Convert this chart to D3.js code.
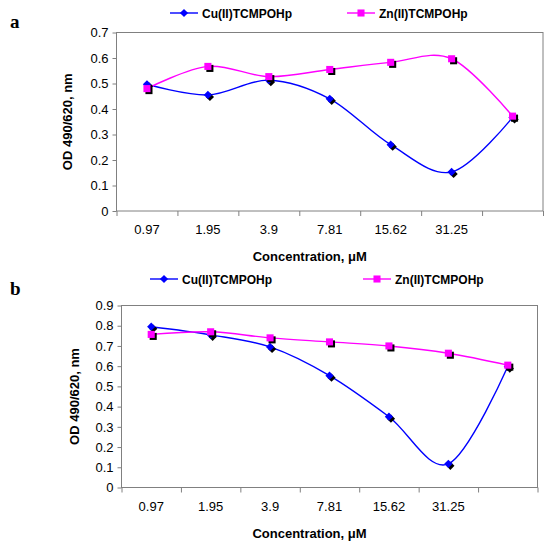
<!DOCTYPE html>
<html>
<head>
<meta charset="utf-8">
<script src="https://cdn.jsdelivr.net/npm/d3@7"></script>
<style>
  html, body { margin: 0; padding: 0; background: #fff; }
  svg text { font-family: "Liberation Sans", Arial, sans-serif; fill: #000; }
</style>
</head>
<body>
<svg id="chart" width="550" height="548"></svg>
<script>
// concentrations (uM); the last category carries no label in the figure
const concLabels = ['0.97', '1.95', '3.9', '7.81', '15.62', '31.25', ''];
const seriesNames = ['Cu(II)TCMPOHp', 'Zn(II)TCMPOHp'];

// panel a
const cuA = [0.497, 0.455, 0.513, 0.44, 0.26, 0.153, 0.367];
const znA = [0.48, 0.567, 0.527, 0.555, 0.583, 0.597, 0.372];
const yTicksA = [0, 0.1, 0.2, 0.3, 0.4, 0.5, 0.6, 0.7];

// panel b
const cuB = [0.795, 0.755, 0.695, 0.553, 0.35, 0.117, 0.598];
const znB = [0.757, 0.77, 0.74, 0.72, 0.70, 0.664, 0.605];
const yTicksB = [0, 0.1, 0.2, 0.3, 0.4, 0.5, 0.6, 0.7, 0.8, 0.9];

const svg = d3.select('#chart');
const colors = ['#0000ff', '#ff00ff'];
const shapes = [
	{ type: d3.symbolSquare, size: 34, rotate: 45 },
	{ type: d3.symbolSquare, size: 50, rotate: 0 }
];

function marker(g, x, y, i, shadow){
	const s = shapes[i];
	const path = d3.symbol().type(s.type).size(s.size)();
	if(shadow){
		g.append('path')
			.attr('d', path)
			.attr('transform', 'translate('+(x+2)+','+(y+2)+') rotate('+s.rotate+')')
			.attr('fill', '#000');
	}
	g.append('path')
		.attr('d', path)
		.attr('transform', 'translate('+x+','+y+') rotate('+s.rotate+')')
		.attr('fill', colors[i]);
}

function drawPanel(p){
	const g = svg.append('g');

	const x = d3.scaleBand()
		.domain(concLabels.map((d, i) => i))
		.range([p.left, p.right])
		.padding(0);
	const xEdge = d3.scaleLinear()
		.domain([0, concLabels.length])
		.range([p.left, p.right]);
	const y = d3.scaleLinear()
		.domain([0, p.yMax])
		.range([p.bottom, p.top]);

	// plot frame
	g.append('rect')
		.attr('x', p.left)
		.attr('y', p.top)
		.attr('width', p.right - p.left)
		.attr('height', p.bottom - p.top)
		.attr('fill', 'none')
		.attr('stroke', '#808080')
		.attr('stroke-width', 1);

	// y axis
	const ya = g.append('g')
		.attr('transform', 'translate('+p.left+',0)')
		.call(d3.axisLeft(y).tickValues(p.yTicks).tickSize(4).tickPadding(4)
			.tickFormat(d => d === 0 ? '0' : d3.format('.1f')(d)));
	ya.select('.domain').remove();
	ya.selectAll('.tick line').attr('stroke', '#808080');
	ya.selectAll('.tick text').attr('font-size', 13);

	// x axis: tick marks between categories, labels at centres
	const xt = g.append('g')
		.attr('transform', 'translate(0,'+p.bottom+')')
		.call(d3.axisBottom(xEdge).ticks(concLabels.length).tickSize(5).tickFormat(''));
	xt.select('.domain').remove();
	xt.selectAll('.tick line').attr('stroke', '#808080');

	const xl = g.append('g')
		.attr('transform', 'translate(0,'+p.bottom+')')
		.call(d3.axisBottom(x).tickSize(0).tickPadding(14).tickFormat(i => concLabels[i]));
	xl.select('.domain').remove();
	xl.selectAll('.tick text').attr('font-size', 13);

	// axis titles
	g.append('text')
		.attr('x', (p.left + p.right) / 2 - 20)
		.attr('y', p.bottom + 50)
		.attr('text-anchor', 'middle')
		.attr('font-size', 13)
		.attr('font-weight', 'bold')
		.text('Concentration, \u03bcM');

	g.append('text')
		.attr('transform', 'translate('+p.yTitleX+','+((p.top + p.bottom) / 2)+') rotate(-90)')
		.attr('text-anchor', 'middle')
		.attr('font-size', 13)
		.attr('font-weight', 'bold')
		.text('OD 490/620, nm');

	// panel letter
	g.append('text')
		.attr('x', 10)
		.attr('y', p.letterY)
		.style('font-family', '"Liberation Serif", "Times New Roman", serif')
		.attr('font-size', 19)
		.attr('font-weight', 'bold')
		.text(p.letter);

	// series
	const line = d3.line()
		.x((d, i) => x(i) + x.bandwidth() / 2)
		.y(d => y(d))
		.curve(d3.curveCardinal.tension(0));

	p.series.forEach((vals, si) => {
		g.append('path')
			.datum(vals)
			.attr('d', line)
			.attr('fill', 'none')
			.attr('stroke', colors[si])
			.attr('stroke-width', 1.4);
	});
	p.series.forEach((vals, si) => {
		vals.forEach((v, i) => marker(g, x(i) + x.bandwidth() / 2, y(v), si, true));
	});

	// legend
	seriesNames.forEach((name, si) => {
		const lx = p.legendX[si];
		g.append('line')
			.attr('x1', lx - 14).attr('x2', lx + 14)
			.attr('y1', p.legendY).attr('y2', p.legendY)
			.attr('stroke', colors[si])
			.attr('stroke-width', 1.4);
		marker(g, lx, p.legendY, si, false);
		g.append('text')
			.attr('x', lx + 18)
			.attr('y', p.legendY + 4.5)
			.attr('font-size', 12)
			.attr('font-weight', 'bold')
			.text(name);
	});
}

drawPanel({
	letter: 'a', letterY: 28,
	left: 116.5, right: 543, top: 32.5, bottom: 211,
	yMax: 0.7, yTicks: yTicksA, yTitleX: 72,
	series: [cuA, znA],
	legendX: [184, 361], legendY: 13
});

drawPanel({
	letter: 'b', letterY: 295,
	left: 121.5, right: 537.5, top: 305.5, bottom: 487.5,
	yMax: 0.9, yTicks: yTicksB, yTitleX: 79,
	series: [cuB, znB],
	legendX: [164, 377], legendY: 279
});
</script>
</body>
</html>
